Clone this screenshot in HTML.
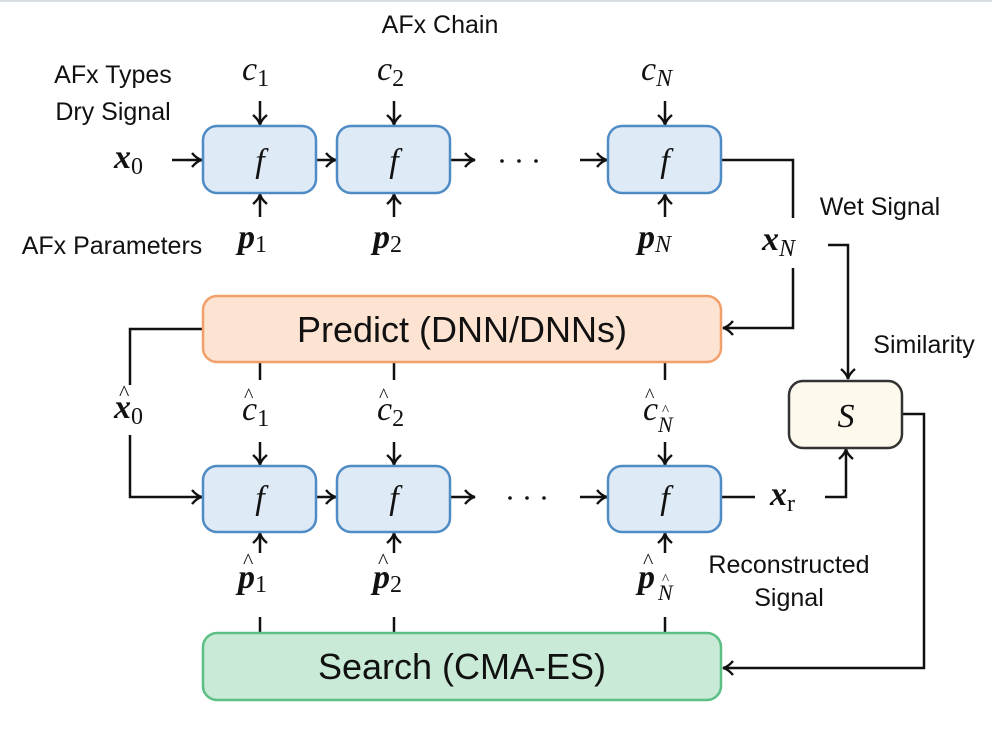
<!DOCTYPE html>
<html><head><meta charset="utf-8"><style>body{margin:0;background:#fff}svg{display:block}
.t{font-family:"Liberation Sans",sans-serif;fill:#111}
.m{font-family:"Liberation Serif",serif;font-style:italic;fill:#111}
.b{font-family:"Liberation Serif",serif;font-style:italic;font-weight:bold;fill:#111}
.s{font-family:"Liberation Serif",serif;font-style:normal;font-weight:normal;fill:#111}
.si{font-family:"Liberation Serif",serif;font-style:italic;font-weight:normal;fill:#111}
</style></head><body>
<svg width="992" height="740" viewBox="0 0 992 740" xmlns="http://www.w3.org/2000/svg">
<defs><marker id="a" markerWidth="16" markerHeight="16" refX="13" refY="8" orient="auto" markerUnits="userSpaceOnUse"><path d="M3,1 Q8,7 13,8 Q8,9 3,15" fill="none" stroke="#111" stroke-width="2.4"/></marker></defs>
<line x1="0" y1="1" x2="992" y2="1" stroke="#d6dde3" stroke-width="2"/>
<g fill="none" stroke="#111" stroke-width="2.5">
<line x1="172" y1="160" x2="202" y2="160" marker-end="url(#a)"/>
<line x1="316" y1="160" x2="336" y2="160" marker-end="url(#a)"/>
<line x1="450" y1="160" x2="475" y2="160" marker-end="url(#a)"/>
<line x1="580" y1="160" x2="607" y2="160" marker-end="url(#a)"/>
<line x1="260" y1="101" x2="260" y2="125" marker-end="url(#a)"/>
<line x1="394" y1="101" x2="394" y2="125" marker-end="url(#a)"/>
<line x1="665" y1="101" x2="665" y2="125" marker-end="url(#a)"/>
<line x1="260" y1="217" x2="260" y2="194" marker-end="url(#a)"/>
<line x1="394" y1="217" x2="394" y2="194" marker-end="url(#a)"/>
<line x1="665" y1="217" x2="665" y2="194" marker-end="url(#a)"/>
<polyline points="721,160 793,160 793,218"/>
<polyline points="793,268 793,328 723,328" marker-end="url(#a)"/>
<polyline points="828,245 848,245 848,379" marker-end="url(#a)"/>
<polyline points="203,329 130,329 130,385"/>
<polyline points="130,435 130,497 202,497" marker-end="url(#a)"/>
<line x1="260" y1="362" x2="260" y2="380"/><line x1="394" y1="362" x2="394" y2="380"/><line x1="665" y1="362" x2="665" y2="380"/>
<line x1="260" y1="442" x2="260" y2="465" marker-end="url(#a)"/>
<line x1="394" y1="442" x2="394" y2="465" marker-end="url(#a)"/>
<line x1="665" y1="442" x2="665" y2="465" marker-end="url(#a)"/>
<line x1="316" y1="497" x2="336" y2="497" marker-end="url(#a)"/>
<line x1="450" y1="497" x2="475" y2="497" marker-end="url(#a)"/>
<line x1="580" y1="497" x2="607" y2="497" marker-end="url(#a)"/>
<line x1="721" y1="497" x2="755" y2="497"/>
<polyline points="825,497 846,497 846,449" marker-end="url(#a)"/>
<line x1="260" y1="553" x2="260" y2="533" marker-end="url(#a)"/>
<line x1="394" y1="553" x2="394" y2="533" marker-end="url(#a)"/>
<line x1="665" y1="553" x2="665" y2="533" marker-end="url(#a)"/>
<line x1="260" y1="617" x2="260" y2="633"/><line x1="394" y1="617" x2="394" y2="633"/><line x1="665" y1="617" x2="665" y2="633"/>
<polyline points="902,414 924,414 924,668 723,668" marker-end="url(#a)"/>
</g>
<g stroke-width="2.5">
<rect x="203" y="126" width="113" height="67" rx="14" fill="#dfeaf7" stroke="#4f8bc4"/>
<rect x="337" y="126" width="113" height="67" rx="14" fill="#dfeaf7" stroke="#4f8bc4"/>
<rect x="608" y="126" width="113" height="67" rx="14" fill="#dfeaf7" stroke="#4f8bc4"/>
<rect x="203" y="296" width="518" height="66" rx="14" fill="#fde3d2" stroke="#f2a06b"/>
<rect x="203" y="466" width="113" height="66" rx="14" fill="#dfeaf7" stroke="#4f8bc4"/>
<rect x="337" y="466" width="113" height="66" rx="14" fill="#dfeaf7" stroke="#4f8bc4"/>
<rect x="608" y="466" width="113" height="66" rx="14" fill="#dfeaf7" stroke="#4f8bc4"/>
<rect x="789" y="381" width="113" height="67" rx="14" fill="#fdf9ec" stroke="#333"/>
<rect x="203" y="633" width="518" height="67" rx="14" fill="#c8ead6" stroke="#5cbf83"/>
</g>
<g font-size="34" text-anchor="middle">
<text class="m" x="260" y="172">f</text><text class="m" x="394" y="172">f</text><text class="m" x="665" y="172">f</text>
<text class="m" x="260" y="509">f</text><text class="m" x="394" y="509">f</text><text class="m" x="665" y="509">f</text>
<text class="m" x="846" y="427">S</text>
</g>
<g font-size="25" class="t" text-anchor="middle">
<text x="440" y="33">AFx Chain</text>
<text x="113" y="83">AFx Types</text>
<text x="113" y="120">Dry Signal</text>
<text x="112" y="254">AFx Parameters</text>
<text x="880" y="215">Wet Signal</text>
<text x="924" y="353">Similarity</text>
<text x="789" y="573">Reconstructed</text>
<text x="789" y="606">Signal</text>
</g>
<text class="t" x="462" y="342" font-size="36" text-anchor="middle">Predict (DNN/DNNs)</text>
<text class="t" x="462" y="679" font-size="36" text-anchor="middle">Search (CMA-ES)</text>
<g font-size="34">
<text class="b" x="114" y="168">x<tspan class="s" font-size="24" dy="6">0</tspan></text>
<text class="m" x="242" y="80">c<tspan class="s" font-size="24" dy="6">1</tspan></text>
<text class="m" x="377" y="80">c<tspan class="s" font-size="24" dy="6">2</tspan></text>
<text class="m" x="641" y="80">c<tspan class="si" font-size="24" dy="6">N</tspan></text>
<text class="b" x="238" y="248">p<tspan class="s" font-size="24" dy="4">1</tspan></text>
<text class="b" x="373" y="248">p<tspan class="s" font-size="24" dy="4">2</tspan></text>
<text class="b" x="638" y="248">p<tspan class="si" font-size="24" dy="4">N</tspan></text>
<text class="b" x="762" y="250">x<tspan class="si" font-size="24" dy="6">N</tspan></text>
<text class="b" x="114" y="418">x<tspan class="s" font-size="24" dy="6">0</tspan></text><text class="s" x="119" y="400" font-size="22">^</text>
<text class="m" x="242" y="420">c<tspan class="s" font-size="24" dy="6">1</tspan></text><text class="s" x="244" y="402" font-size="20">^</text>
<text class="m" x="377" y="420">c<tspan class="s" font-size="24" dy="6">2</tspan></text><text class="s" x="379" y="402" font-size="20">^</text>
<text class="m" x="643" y="420">c</text><text class="si" x="658" y="432" font-size="22">N</text><text class="s" x="645" y="402" font-size="20">^</text><text class="s" x="662" y="415" font-size="15">^</text>
<text class="b" x="238" y="588">p<tspan class="s" font-size="24" dy="4">1</tspan></text><text class="s" x="243" y="568" font-size="22">^</text>
<text class="b" x="373" y="588">p<tspan class="s" font-size="24" dy="4">2</tspan></text><text class="s" x="378" y="568" font-size="22">^</text>
<text class="b" x="638" y="588">p</text><text class="si" x="658" y="600" font-size="22">N</text><text class="s" x="643" y="568" font-size="22">^</text><text class="s" x="662" y="584" font-size="15">^</text>
<text class="b" x="770" y="505">x<tspan class="s" font-size="24" dy="6">r</tspan></text>
</g>
<g fill="#111"><circle cx="502" cy="161" r="1.8"/><circle cx="519" cy="161" r="1.8"/><circle cx="536" cy="161" r="1.8"/>
<circle cx="510" cy="498" r="1.8"/><circle cx="527" cy="498" r="1.8"/><circle cx="544" cy="498" r="1.8"/></g>
</svg>
</body></html>
